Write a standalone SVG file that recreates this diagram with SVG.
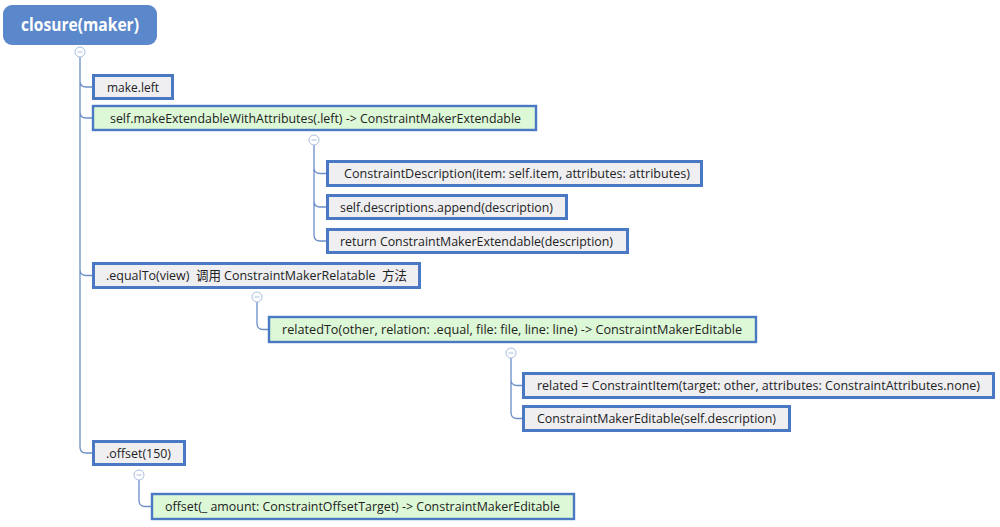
<svg xmlns="http://www.w3.org/2000/svg" width="1000" height="527" viewBox="0 0 1000 527">
<style>
.g rect{fill:#efeff2;stroke:#4a78c2;stroke-width:3}
.gr rect{fill:#dcf8d6;stroke:#4a78c2;stroke-width:2.4}
text{font-family:"Open Sans","Noto Sans","Noto Sans CJK SC",sans-serif;font-size:13px;fill:#222;white-space:pre}
.c{fill:#fff;stroke:#a9bde0;stroke-width:1}
.m{stroke:#a9bde0;stroke-width:1}
#connectors path{fill:none;stroke:#6b8fc8;stroke-width:1.3}
</style>
<rect width="1000" height="527" fill="#fff"/>
<g id="connectors">
<path d="M80,57 V447 Q80,453 86,453 H92 M80,81 Q80,87 86,87 H92 M80,112 Q80,118 86,118 H92 M80,269.5 Q80,275.5 86,275.5 H92"/>
<path d="M314,145 V235 Q314,241 320,241 H326 M314,167.5 Q314,173.5 320,173.5 H326 M314,201 Q314,207 320,207 H326"/>
<path d="M257,302 V323.5 Q257,329.5 263,329.5 H268"/>
<path d="M511,358 V412.5 Q511,418.5 517,418.5 H522 M511,379.5 Q511,385.5 517,385.5 H522"/>
<path d="M139,480 V500.5 Q139,506.5 145,506.5 H151"/>
</g>
<g id="root">
<rect x="3" y="5" width="154" height="40" rx="9" fill="#5b87cb"/>
<text x="80" y="31" text-anchor="middle" style="font-size:17px;font-weight:bold;fill:#fff" textLength="118" lengthAdjust="spacingAndGlyphs">closure(maker)</text>
</g>
<g id="toggles">
<circle class="c" cx="80" cy="52" r="5"/><path class="m" d="M77.5,52 H82.5"/>
<circle class="c" cx="314" cy="140" r="5"/><path class="m" d="M311.5,140 H316.5"/>
<circle class="c" cx="257" cy="297" r="5"/><path class="m" d="M254.5,297 H259.5"/>
<circle class="c" cx="511" cy="353" r="5"/><path class="m" d="M508.5,353 H513.5"/>
<circle class="c" cx="139" cy="475" r="5"/><path class="m" d="M136.5,475 H141.5"/>
</g>
<g id="n-make-left" class="g">
<rect x="93.5" y="75.5" width="79" height="23"/>
<text x="107" y="91.5" textLength="52" lengthAdjust="spacingAndGlyphs">make.left</text>
</g>
<g id="n-make-extendable" class="gr">
<rect x="93" y="106" width="443" height="24"/>
<text x="110" y="122.5" textLength="411" lengthAdjust="spacingAndGlyphs">self.makeExtendableWithAttributes(.left) -&gt; ConstraintMakerExtendable</text>
</g>
<g id="n-description" class="g">
<rect x="327.5" y="161.5" width="374" height="24"/>
<text x="344" y="178" textLength="346" lengthAdjust="spacingAndGlyphs">ConstraintDescription(item: self.item, attributes: attributes)</text>
</g>
<g id="n-append" class="g">
<rect x="327.5" y="195.5" width="239" height="23"/>
<text x="340" y="211.5" textLength="213" lengthAdjust="spacingAndGlyphs">self.descriptions.append(description)</text>
</g>
<g id="n-return" class="g">
<rect x="327.5" y="229.5" width="300" height="23"/>
<text x="340" y="245.5" textLength="273" lengthAdjust="spacingAndGlyphs">return ConstraintMakerExtendable(description)</text>
</g>
<g id="n-equalto" class="g">
<rect x="93.5" y="263.5" width="326" height="24"/>
<text x="106" y="280" textLength="301" lengthAdjust="spacingAndGlyphs" xml:space="preserve">.equalTo(view)  调用 ConstraintMakerRelatable  方法</text>
</g>
<g id="n-relatedto" class="gr">
<rect x="269" y="317" width="487" height="25"/>
<text x="282" y="334" textLength="460" lengthAdjust="spacingAndGlyphs">relatedTo(other, relation: .equal, file: file, line: line) -&gt; ConstraintMakerEditable</text>
</g>
<g id="n-related" class="g">
<rect x="523.5" y="373.5" width="470" height="24"/>
<text x="537" y="390" textLength="443" lengthAdjust="spacingAndGlyphs">related = ConstraintItem(target: other, attributes: ConstraintAttributes.none)</text>
</g>
<g id="n-editable" class="g">
<rect x="523.5" y="406.5" width="266" height="24"/>
<text x="537" y="423" textLength="239" lengthAdjust="spacingAndGlyphs">ConstraintMakerEditable(self.description)</text>
</g>
<g id="n-offset" class="g">
<rect x="93.5" y="441.5" width="91" height="23"/>
<text x="106" y="457.5" textLength="65" lengthAdjust="spacingAndGlyphs">.offset(150)</text>
</g>
<g id="n-offset-fn" class="gr">
<rect x="152" y="494" width="422" height="25"/>
<text x="165" y="511" textLength="395" lengthAdjust="spacingAndGlyphs">offset(_ amount: ConstraintOffsetTarget) -&gt; ConstraintMakerEditable</text>
</g>
</svg>
